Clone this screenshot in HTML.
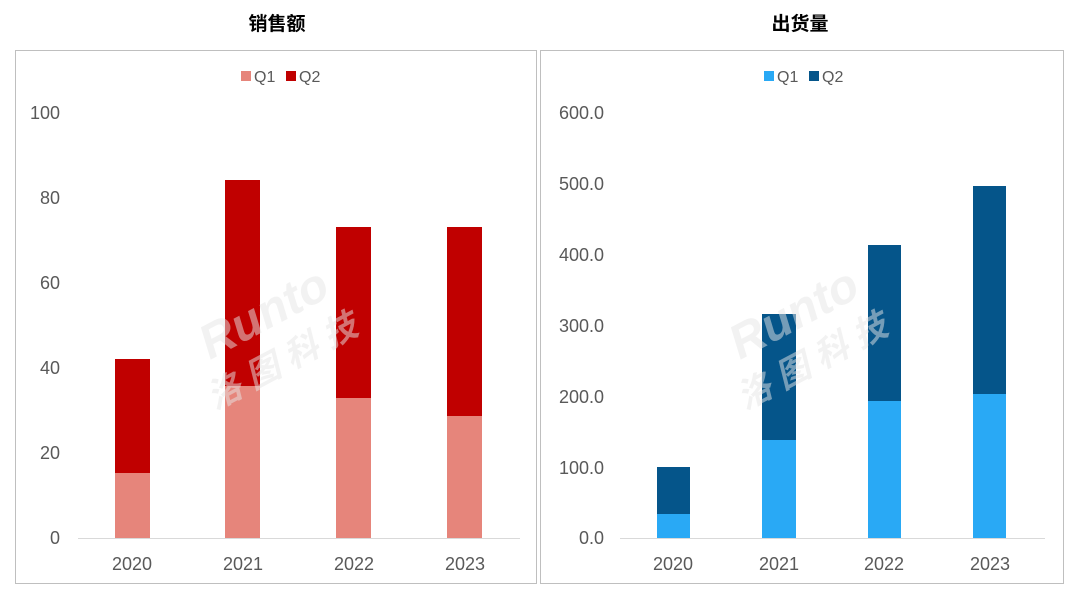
<!DOCTYPE html>
<html><head><meta charset="utf-8"><style>
body{margin:0;background:#fff;}
svg text{font-family:"Liberation Sans","Noto Sans CJK SC",sans-serif;}
</style></head><body>
<svg width="1080" height="605" viewBox="0 0 1080 605" xmlns="http://www.w3.org/2000/svg">
<rect width="1080" height="605" fill="#fff"/>
<text x="277" y="30" font-size="19" font-weight="bold" text-anchor="middle" fill="#000">销售额</text>
<text x="800" y="30" font-size="19" font-weight="bold" text-anchor="middle" fill="#000">出货量</text>
<rect x="15.5" y="50.5" width="521" height="533" fill="none" stroke="#bfbfbf"/>
<rect x="540.5" y="50.5" width="523" height="533" fill="none" stroke="#bfbfbf"/>
<!-- left legend -->
<rect x="241" y="71" width="10" height="10" fill="#E6857B"/>
<text x="254" y="82" font-size="16" fill="#595959">Q1</text>
<rect x="286" y="71" width="10" height="10" fill="#C00000"/>
<text x="299" y="82" font-size="16" fill="#595959">Q2</text>
<!-- left ticks -->
<g font-size="18" fill="#595959" text-anchor="end">
<text x="60" y="544">0</text><text x="60" y="459">20</text><text x="60" y="374">40</text>
<text x="60" y="289">60</text><text x="60" y="204">80</text><text x="60" y="119">100</text>
</g>
<line x1="78" y1="538.5" x2="520" y2="538.5" stroke="#d9d9d9"/>
<g fill="#E6857B">
<rect x="115" y="473" width="35" height="65"/><rect x="225" y="386" width="35" height="152"/>
<rect x="336" y="398" width="35" height="140"/><rect x="447" y="416" width="35" height="122"/>
</g>
<g fill="#C00000">
<rect x="115" y="359" width="35" height="114"/><rect x="225" y="180" width="35" height="206"/>
<rect x="336" y="227" width="35" height="171"/><rect x="447" y="227" width="35" height="189"/>
</g>
<g font-size="18" fill="#595959" text-anchor="middle">
<text x="132" y="570">2020</text><text x="243" y="570">2021</text><text x="354" y="570">2022</text><text x="465" y="570">2023</text>
</g>
<!-- right legend -->
<rect x="764" y="71" width="10" height="10" fill="#29A9F5"/>
<text x="777" y="82" font-size="16" fill="#595959">Q1</text>
<rect x="809" y="71" width="10" height="10" fill="#05558A"/>
<text x="822" y="82" font-size="16" fill="#595959">Q2</text>
<g font-size="18" fill="#595959" text-anchor="end">
<text x="604" y="544">0.0</text><text x="604" y="474">100.0</text><text x="604" y="403">200.0</text>
<text x="604" y="332">300.0</text><text x="604" y="261">400.0</text><text x="604" y="190">500.0</text><text x="604" y="119">600.0</text>
</g>
<line x1="620" y1="538.5" x2="1045" y2="538.5" stroke="#d9d9d9"/>
<g fill="#29A9F5">
<rect x="657" y="514" width="33" height="24"/><rect x="762" y="440" width="34" height="98"/>
<rect x="868" y="401" width="33" height="137"/><rect x="973" y="394" width="33" height="144"/>
</g>
<g fill="#05558A">
<rect x="657" y="467" width="33" height="47"/><rect x="762" y="314" width="34" height="126"/>
<rect x="868" y="245" width="33" height="156"/><rect x="973" y="186" width="33" height="208"/>
</g>
<g font-size="18" fill="#595959" text-anchor="middle">
<text x="673" y="570">2020</text><text x="779" y="570">2021</text><text x="884" y="570">2022</text><text x="990" y="570">2023</text>
</g>
<!-- watermarks -->
<g fill="#e6e6e6" fill-opacity="0.5" font-size="48" font-style="italic" font-weight="bold">
<text x="210" y="360" transform="rotate(-28 210 360)">Runto</text>
<text x="215" y="410" font-size="34" transform="rotate(-28 215 410)">洛 图 科 技</text>
<text x="740" y="360" transform="rotate(-28 740 360)">Runto</text>
<text x="745" y="410" font-size="34" transform="rotate(-28 745 410)">洛 图 科 技</text>
</g>
</svg>
</body></html>
